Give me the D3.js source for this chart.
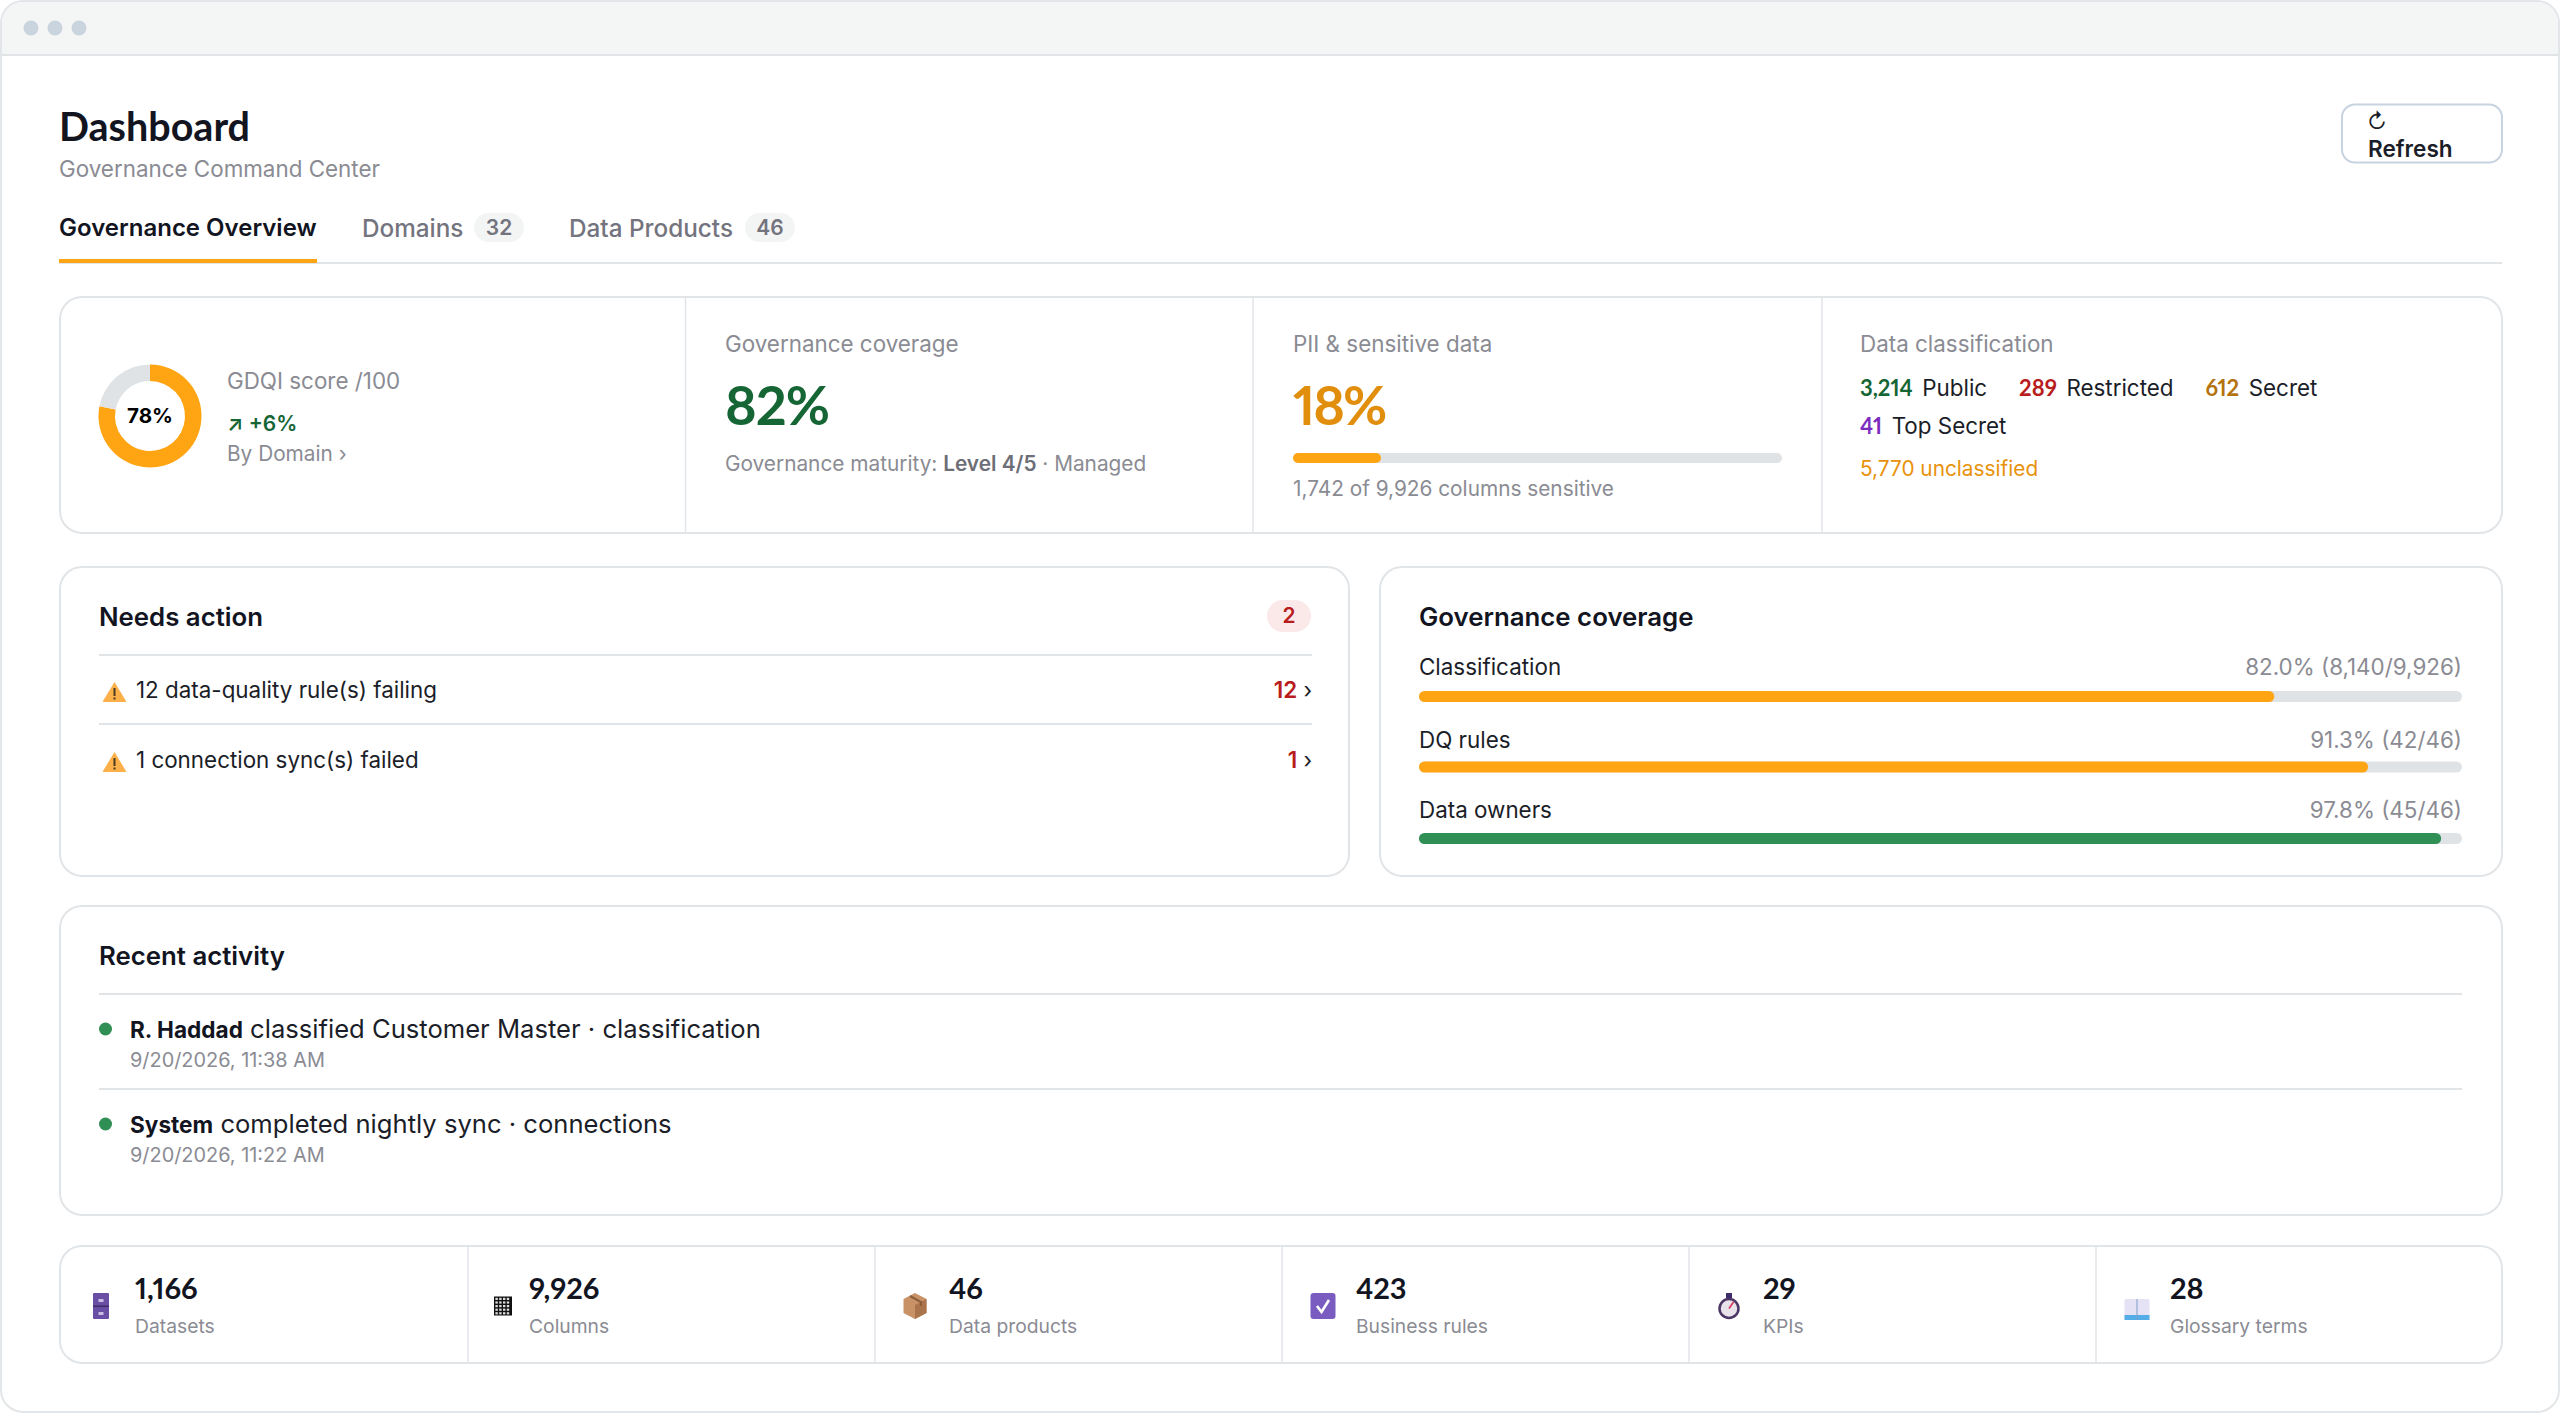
<!DOCTYPE html>
<html>
<head>
<meta charset="utf-8">
<title>Dashboard</title>
<script src="https://cdn.jsdelivr.net/npm/d3@7"></script>
<style>
  html, body { margin: 0; padding: 0; background: #fff; }
  svg { display: block; }
  text { font-family: Inter, "Noto Sans", sans-serif; }
  .geo { font-family: Lato, Inter, sans-serif; font-variant-numeric: proportional-nums; font-feature-settings: "pnum"; }
</style>
</head>
<body>
<svg id="chart" width="2560" height="1413"></svg>
<script>
// tabs
const tabNames = ["Domains", "Data Products"];
const tabCounts = [32, 46];

// gdqi donut
const gdqiScore = 78;

// pii bar
const piiPercent = 18;
const piiColumns = 1742;
const totalColumns = 9926;

// data classification
const classNames = ["Public", "Restricted", "Secret", "Top Secret"];
const classCounts = [3214, 289, 612, 41];
const classColors = ["#166534", "#b91c1c", "#b4730f", "#7b2cbf"];
const unclassified = 5770;

// needs action
const actionLabels = ["12 data-quality rule(s) failing", "1 connection sync(s) failed"];
const actionCounts = [12, 1];

// coverage bars, the bars are drawn at the rounded percent
const coverageNames = ["Classification", "DQ rules", "Data owners"];
const coveragePct = [82.0, 91.3, 97.8];
const coverageBar = [82, 91, 98];
const coverageDone = [8140, 42, 45];
const coverageTotal = [9926, 46, 46];
const coverageColors = ["#ffa514", "#ffa514", "#2f8f55"];

// recent activity
const activityWho = ["R. Haddad", "System"];
const activityWhat = ["classified Customer Master · classification", "completed nightly sync · connections"];
const activityWhen = ["9/20/2026, 11:38 AM", "9/20/2026, 11:22 AM"];

// bottom stats
const statLabels = ["Datasets", "Columns", "Data products", "Business rules", "KPIs", "Glossary terms"];
const statValues = [1166, 9926, 46, 423, 29, 28];

const svg = d3.select("#chart");
const fmt = d3.format(",");
const INK = "#12151f", BODY = "#1b1e28", MUTED = "#8a8b93", LINE = "#e2e5e8", TRACK = "#e0e3e6", ORANGE = "#ffa514";

// write a text, parts is a string or a list of [string, weight, color, dx, class, size]
function label(x, y, parts, size, weight, color, opts) {
  opts = opts || {};
  const t = svg.append("text").attr("x", x).attr("y", y)
    .attr("font-size", size).attr("font-weight", weight).attr("fill", color)
    .attr("text-anchor", opts.anchor || "start");
  if (opts.geo) t.attr("class", "geo");
  if (opts.spacing) t.attr("letter-spacing", opts.spacing);
  if (typeof parts === "string") { t.text(parts); return t; }
  parts.forEach(p => {
    const s = t.append("tspan").text(p[0]);
    if (p[1]) s.attr("font-weight", p[1]);
    if (p[2]) s.attr("fill", p[2]);
    if (p[3]) s.attr("dx", p[3]);
    if (p[4]) s.attr("class", p[4]);
    if (p[5]) s.attr("font-size", p[5]);
  });
  return t;
}

function card(x0, y0, x1, y1) {
  svg.append("rect").attr("x", x0).attr("y", y0).attr("width", x1 - x0).attr("height", y1 - y0)
    .attr("rx", 22).attr("fill", "#fff").attr("stroke", LINE).attr("stroke-width", 2);
}

function rule(x0, x1, y) {
  svg.append("line").attr("x1", x0).attr("x2", x1).attr("y1", y).attr("y2", y)
    .attr("stroke", LINE).attr("stroke-width", 2);
}

function vrule(x, y0, y1) {
  svg.append("line").attr("x1", x).attr("x2", x).attr("y1", y0).attr("y2", y1)
    .attr("stroke", LINE).attr("stroke-width", 1.5);
}

function bar(x0, x1, y, h, pct, color) {
  const xs = d3.scaleLinear().domain([0, 100]).range([x0, x1]);
  svg.append("rect").attr("x", x0).attr("y", y).attr("width", x1 - x0).attr("height", h)
    .attr("rx", h / 2).attr("fill", TRACK);
  svg.append("rect").attr("x", x0).attr("y", y).attr("width", xs(pct) - x0).attr("height", h)
    .attr("rx", h / 2).attr("fill", color);
}

// window frame
svg.append("rect").attr("x", 1).attr("y", 1).attr("width", 2558).attr("height", 1411)
  .attr("rx", 22).attr("fill", "#fff").attr("stroke", "#e3e6e8").attr("stroke-width", 2);
svg.append("path").attr("d", "M2 55V23a21 21 0 0 1 21-21H2537a21 21 0 0 1 21 21V55Z").attr("fill", "#f4f6f6");
rule(1, 2559, 55);
svg.selectAll(".dot").data([31, 55, 79]).join("circle").attr("class", "dot")
  .attr("cx", d => d).attr("cy", 28).attr("r", 7.5).attr("fill", "#c9d4df");

// header
label(59, 141, "Dashboard", 39.5, 700, INK, { geo: true });
label(59, 177, "Governance Command Center", 22.4, 400, MUTED);

// refresh button
svg.append("rect").attr("x", 2342).attr("y", 104.5).attr("width", 160).attr("height", 58)
  .attr("rx", 13).attr("fill", "#fff").attr("stroke", "#c7d3e0").attr("stroke-width", 2);
svg.append("text").attr("x", 2367).attr("y", 129).attr("font-family", "DejaVu Sans")
  .attr("font-size", 21).attr("fill", BODY).text("↻");
label(2368, 157, "Refresh", 22.6, 600, BODY);

// tabs
label(59, 235.5, "Governance Overview", 24, 600, INK);
const tabX = [362, 569], tabBadgeX = [474, 745];
tabNames.forEach((name, i) => {
  label(tabX[i], 237, name, 24.3, 500, "#73747e");
  svg.append("rect").attr("x", tabBadgeX[i]).attr("y", 213).attr("width", 50).attr("height", 29)
    .attr("rx", 14.5).attr("fill", "#f3f5f5");
  label(tabBadgeX[i] + 25, 235, String(tabCounts[i]), 21, 600, "#73747e", { anchor: "middle" });
});
rule(59, 2502, 263);
svg.append("rect").attr("x", 59).attr("y", 259).attr("width", 258).attr("height", 4).attr("fill", ORANGE);

// kpi strip
card(60, 297, 2502, 533);
[685.5, 1253, 1822].forEach(x => vrule(x, 298, 532));

// gdqi donut
const pie = d3.pie().sort(null)([gdqiScore, 100 - gdqiScore]);
const arc = d3.arc().innerRadius(35).outerRadius(51.5);
svg.append("g").attr("transform", "translate(150,416)")
  .selectAll("path").data(pie).join("path")
  .attr("d", arc).attr("fill", (d, i) => i === 0 ? ORANGE : TRACK);
label(150, 423, gdqiScore + "%", 20.6, 700, "#000", { anchor: "middle" });
label(227, 389, "GDQI score /100", 22.4, 400, MUTED);
label(227, 430.5, [["↗", 600, "#166534"], [" +6%", 600, "#166534"]], 21, 600, "#166534");
label(227, 461, "By Domain ›", 20.8, 400, MUTED);

// governance coverage kpi
label(725, 352, "Governance coverage", 22.4, 400, MUTED);
label(725, 425, coveragePct[0].toFixed(0) + "%", 54, 700, "#166534", { geo: true, spacing: -1 });
label(725, 471, [["Governance maturity: "], ["Level 4/5", 600, "#6d6e76"], [" · Managed"]], 20.8, 400, MUTED);

// pii kpi
label(1293, 352, "PII & sensitive data", 22.4, 400, MUTED);
label(1293, 425, piiPercent + "%", 54, 700, "#e08e0b", { geo: true, spacing: -2 });
bar(1293, 1782, 453, 10, piiPercent, ORANGE);
label(1293, 496, fmt(piiColumns) + " of " + fmt(totalColumns) + " columns sensitive", 20.8, 400, MUTED);

// data classification kpi
label(1860, 352, "Data classification", 22.4, 400, MUTED);
function classRow(idx, y) {
  const parts = [];
  idx.forEach((k, j) => {
    parts.push([fmt(classCounts[k]), 700, classColors[k], j ? 32 : 0, "geo", 22]);
    parts.push([classNames[k], 400, BODY, 9.5]);
  });
  label(1860, y, parts, 22.4, 400, BODY);
}
classRow([0, 1, 2], 396);
classRow([3], 434);
label(1860, 476, fmt(unclassified) + " unclassified", 20.8, 400, "#e8920c");

// warning sign
function warn(y) {
  const g = svg.append("g").attr("transform", "translate(114.5," + y + ")");
  g.append("path").attr("d", "M0 -10 L11.5 9 Q12 10 11 10 H-11 Q-12 10 -11.5 9Z").attr("fill", "#fbb04a");
  g.append("rect").attr("x", -1).attr("y", -4).attr("width", 2).attr("height", 8).attr("fill", "#4a3a22");
  g.append("rect").attr("x", -1).attr("y", 5.5).attr("width", 2).attr("height", 2).attr("fill", "#4a3a22");
}

// needs action card
card(60, 567, 1349, 876);
label(99, 626, "Needs action", 25.8, 600, INK);
svg.append("rect").attr("x", 1267).attr("y", 600).attr("width", 44).attr("height", 32)
  .attr("rx", 16).attr("fill", "#fbe9e9");
label(1289, 623, String(actionLabels.length), 21, 600, "#b91c1c", { anchor: "middle" });
rule(99, 1312, 655);
rule(99, 1312, 724);
const actionY = d3.scalePoint().domain(actionLabels).range([698, 768]);
actionLabels.forEach((txt, i) => {
  const y = actionY(txt);
  warn(y - 6);
  label(136, y, txt, 22.4, 400, BODY);
  label(1312, y, [[String(actionCounts[i]), 600, "#b91c1c"], [" ›", 400, BODY]], 22.4, 400, BODY, { anchor: "end" });
});

// governance coverage card
card(1380, 567, 2502, 876);
label(1419, 626, "Governance coverage", 25.8, 600, INK);
const coverageTextY = [675, 747.5, 817.5], coverageBarY = [691, 761.5, 833];
coverageNames.forEach((name, i) => {
  const y = coverageTextY[i];
  label(1419, y, name, 22.4, 400, BODY);
  label(2462, y, coveragePct[i].toFixed(1) + "% (" + fmt(coverageDone[i]) + "/" + fmt(coverageTotal[i]) + ")", 22.4, 400, MUTED, { anchor: "end" });
  bar(1419, 2462, coverageBarY[i], 11, coverageBar[i], coverageColors[i]);
});

// recent activity card
card(60, 906, 2502, 1215);
label(99, 965, "Recent activity", 25.8, 600, INK);
rule(99, 2462, 994);
rule(99, 2462, 1089);
const activityY = d3.scalePoint().domain(activityWho).range([1038, 1133]);
activityWho.forEach((who, i) => {
  const y = activityY(who);
  svg.append("circle").attr("cx", 105.5).attr("cy", y - 9).attr("r", 6.5).attr("fill", "#2f8f55");
  label(130, y, [[who, 700, INK, 0, "", 22.6], [" " + activityWhat[i], 400, BODY]], 25.6, 400, BODY);
  label(130, y + 29, activityWhen[i], 19.9, 400, MUTED);
});

// bottom stats strip
card(60, 1246, 2502, 1363);
const statX = d3.scaleBand().domain(statLabels).range([60, 2502]);
statLabels.slice(1).forEach(s => vrule(statX(s) + 1, 1247, 1362));
const statIndent = [75, 62, 75, 75, 75, 75];
const iconCx = [41, 36, 41, 42, 41, 42];
const iconDraw = [drawCabinet, drawGrid, drawBox, drawCheck, drawWatch, drawBook];
statLabels.forEach((name, i) => {
  const x = statX(name);
  label(x + statIndent[i], 1299, fmt(statValues[i]), 29, 700, INK, { geo: true });
  label(x + statIndent[i], 1333, name, 19.3, 400, MUTED);
  iconDraw[i](svg.append("g").attr("transform", "translate(" + (x + iconCx[i]) + ",1306)"));
});

// the little stat icons
function drawCabinet(g) {
  g.append("rect").attr("x", -8).attr("y", -13).attr("width", 16).attr("height", 26).attr("rx", 1).attr("fill", "#6a4ea3");
  g.append("rect").attr("x", -8).attr("y", -0.5).attr("width", 16).attr("height", 1.5).attr("fill", "#3e2d68");
  [-7, 6].forEach(y => g.append("rect").attr("x", -2.5).attr("y", y).attr("width", 5).attr("height", 3).attr("fill", "#c9bde6"));
}
function drawGrid(g) {
  g.append("rect").attr("x", -9).attr("y", -9.5).attr("width", 18).attr("height", 19).attr("fill", "#111");
  d3.range(4).forEach(c => d3.range(5).forEach(r => {
    g.append("rect").attr("x", -7.6 + c * 3.8).attr("y", -8.2 + r * 3.6).attr("width", 2.4).attr("height", 2.2).attr("fill", "#ddd");
  }));
}
function drawBox(g) {
  g.append("path").attr("d", "M0 -13 L11.5 -7 V7 L0 13 L-11.5 7 V-7Z").attr("fill", "#c99266");
  g.append("path").attr("d", "M0 -1 L11.5 -7 V7 L0 13Z").attr("fill", "#a9744c");
  g.append("path").attr("d", "M-5 -10 L6 -4 V0").attr("fill", "none").attr("stroke", "#8a5d3a").attr("stroke-width", 2);
}
function drawCheck(g) {
  g.append("rect").attr("x", -12.5).attr("y", -13).attr("width", 25).attr("height", 26).attr("rx", 3).attr("fill", "#7a5cc0");
  g.append("path").attr("d", "M-6 0 L-1.5 6 L6 -6").attr("fill", "none").attr("stroke", "#fff").attr("stroke-width", 2.6);
}
function drawWatch(g) {
  g.append("rect").attr("x", -3).attr("y", -13).attr("width", 6).attr("height", 5).attr("fill", "#3e2d68");
  g.append("circle").attr("cy", 2.5).attr("r", 9.5).attr("fill", "#e8e2ea").attr("stroke", "#4a3565").attr("stroke-width", 2.5);
  g.append("path").attr("d", "M0 2.5 L4.5 -4").attr("stroke", "#d8345f").attr("stroke-width", 1.6);
}
function drawBook(g) {
  g.append("rect").attr("x", -12.5).attr("y", -7).attr("width", 25).attr("height", 21).attr("rx", 1.5).attr("fill", "#e6e2f5");
  g.append("rect").attr("x", -12.5).attr("y", 9).attr("width", 25).attr("height", 5).attr("fill", "#55ade8");
  g.append("rect").attr("x", -0.5).attr("y", -7).attr("width", 1).attr("height", 21).attr("fill", "#7f9ec5");
}
</script>
</body>
</html>
